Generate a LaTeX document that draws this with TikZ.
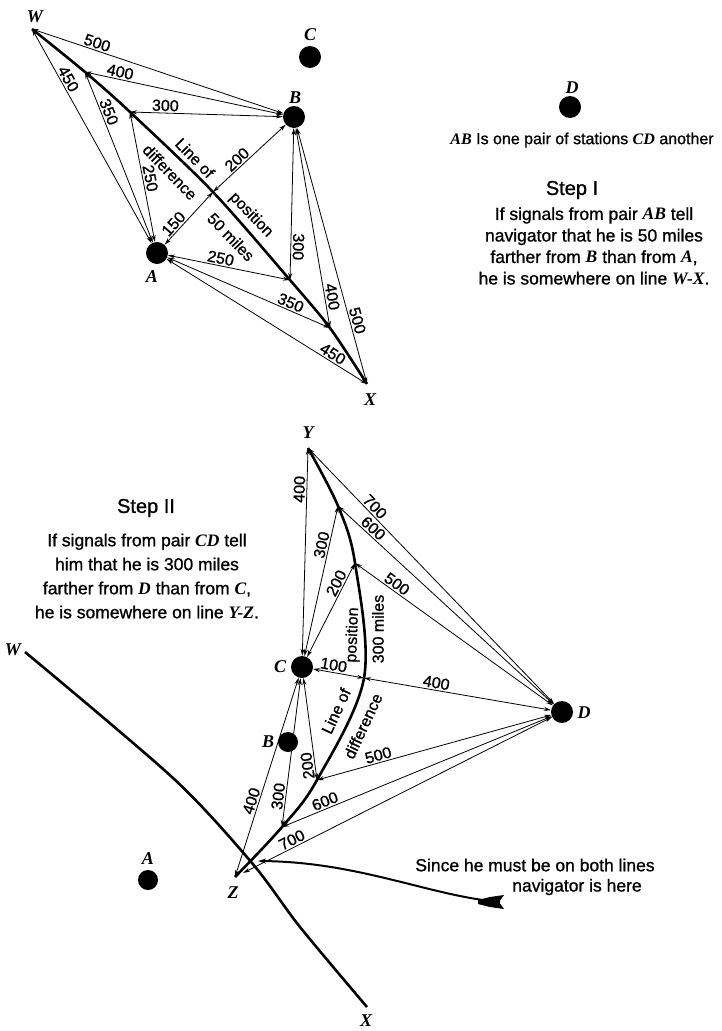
\documentclass[tikz,border=0pt]{standalone}
\usepackage{fontspec}
\setmainfont{Liberation Sans}[FakeBold=1]
\newfontfamily\stnfont{Liberation Serif}
\usetikzlibrary{arrows.meta}

\newcommand{\st}[1]{{\stnfont\bfseries\itshape #1}}

\begin{document}
\begin{tikzpicture}[x=1pt,y=-1pt,
    stn/.style={circle,fill=black,minimum size=22pt,inner sep=0pt},
    lett/.style={font=\fontsize{18}{18}\selectfont\stnfont\bfseries\itshape,inner sep=0pt},
    meas/.style={{Stealth[length=7pt,width=4pt]}-{Stealth[length=7pt,width=4pt]},line width=0.8pt},
    num/.style={font=\fontsize{16}{16}\selectfont,inner sep=1.5pt,sloped,above},
    lop/.style={line width=2.6pt},
    lopl/.style={font=\fontsize{16}{16}\selectfont,inner sep=0pt},
    note/.style={font=\fontsize{17.5}{22}\selectfont,align=center,inner sep=0pt}]
\useasboundingbox (0,0) rectangle (721,1031);

% Step I
\node[stn] (A) at (157,253) {};
\node[stn] (B) at (294,117) {};
\node[stn] (C) at (310,57) {};
\node[stn] (D) at (570,107) {};
\node[lett] (labA) at (152,277) {A};
\node[lett] (labB) at (295,98) {B};
\node[lett] (labC) at (310,35) {C};
\node[lett] (labD) at (572,88) {D};
\node[lett] (labW) at (35,17) {W};
\node[lett] (labX) at (370,400) {X};

\coordinate (W) at (32,29);
\coordinate (P1) at (85,72);
\coordinate (P2) at (130,112);
\coordinate (P3) at (213,192);
\coordinate (P4) at (290,280);
\coordinate (P5) at (330,328);
\coordinate (X) at (367,384);

\draw[lop] plot[smooth,tension=0.5] coordinates {(W) (P1) (P2) (P3) (P4) (P5) (X)};
\node[lopl,rotate=-46] (lineof) at (195,158) {Line of};
\node[lopl,rotate=-46] (posit) at (251,215) {position};
\node[lopl,rotate=-46] (diff) at (170,172) {difference};
\node[lopl,rotate=-46] (miles) at (231,237) {50 miles};

\draw[meas] (W) -- node[num,pos=.25]{500} (B);
\draw[meas] (W) -- node[num,pos=.25]{450} (A);
\draw[meas] (P1) -- node[num,pos=.17]{400} (B);
\draw[meas] (P1) -- node[num,pos=.25]{350} (A);
\draw[meas] (P2) -- node[num,pos=.23]{300} (B);
\draw[meas] (P2) -- node[num,pos=.52]{250} (A);
\draw[meas] (P3) -- node[num,pos=.4]{200} (B);
\draw[meas] (A) -- node[num,pos=.3]{150} (P3);
\draw[meas] (A) -- node[num,pos=.42]{250} (P4);
\draw[meas] (B) -- node[num,pos=.78,allow upside down]{300} (P4);
\draw[meas] (A) -- node[num,pos=.74]{350} (P5);
\draw[meas] (B) -- node[num,pos=.85]{400} (P5);
\draw[meas] (A) -- node[num,pos=.81]{450} (X);
\draw[meas] (B) -- node[num,pos=.76]{500} (X);

\node[note,font=\fontsize{16}{16}\selectfont] (pairs) at (582,140) {\st{AB} Is one pair of stations \st{CD} another};
\node[font=\fontsize{20}{20}\selectfont] (step1) at (572,190) {Step I};
\node[note,font=\fontsize{17.5}{21.5}\selectfont] (text1) at (594,246)
  {If signals from pair \st{AB} tell\\ navigator that he is 50 miles\\
   farther from \st{B} than from \st{A},\\ he is somewhere on line \st{W-X}.};

% Step II
\node[stn] (C2) at (302,667) {};
\node[stn] (D2) at (562,712) {};
\node[stn,minimum size=20pt] (B2) at (288,742) {};
\node[stn,minimum size=20pt] (A2) at (148,880) {};
\node[lett] (labC2) at (280,667) {C};
\node[lett] (labD2) at (584,713) {D};
\node[lett] (labB2) at (268,742) {B};
\node[lett] (labA2) at (148,859) {A};
\node[lett] (labY) at (308,433) {Y};
\node[lett] (labZ) at (233,893) {Z};
\node[lett] (labW2) at (13,650) {W};
\node[lett] (labX2) at (366,1021) {X};

\coordinate (Y) at (308,448);
\coordinate (Q1) at (338,506);
\coordinate (Q2) at (355,563);
\coordinate (Q3) at (364,678);
\coordinate (Q4) at (317,780);
\coordinate (Q5) at (282,827);
\coordinate (Z) at (235,877);

\draw[lop] plot[smooth,tension=0.55] coordinates {(Y) (Q1) (Q2) (Q3) (Q4) (Q5) (Z)};
\node[lopl,rotate=88] (posit2) at (353,635) {position};
\node[lopl,rotate=90] (miles2) at (378,629) {300 miles};
\node[lopl,rotate=65] (lineof2) at (336,711) {Line of};
\node[lopl,rotate=65] (diff2) at (363,726) {difference};

\draw[meas] (C2) -- node[num,pos=.8]{400} (Y);
\draw[meas] (C2) -- node[num,pos=.73]{300} (Q1);
\draw[meas] (C2) -- node[num,pos=.75]{200} (Q2);
\draw[meas] (C2) -- node[num,pos=.38]{100} (Q3);
\draw[meas] (Q3) -- node[num,pos=.38]{400} (D2);
\draw[meas] (Y) -- node[num,pos=.25]{700} (D2);
\draw[meas] (Q1) -- node[num,pos=.14]{600} (D2);
\draw[meas] (Q2) -- node[num,pos=.19]{500} (D2);
\draw[meas] (Q4) -- node[num,pos=.15,allow upside down]{200} (C2);
\draw[meas] (Q5) -- node[num,pos=.2]{300} (C2);
\draw[meas] (Z) -- node[num,pos=.37]{400} (C2);
\draw[meas] (Q4) -- node[num,pos=.27]{500} (D2);
\draw[meas] (Q5) -- node[num,pos=.17]{600} (D2);
\draw[meas,shorten <=9pt] (Z) -- node[num,pos=.19]{700} (D2);

% line W-X carried over
\coordinate (W2) at (25,652);
\coordinate (X2) at (367,1007);
\draw[lop] plot[smooth,tension=0.5] coordinates {(W2) (173,778) (252,863) (300,927) (X2)};

\node[note] (text2h) at (146,508) {\fontsize{20}{20}\selectfont Step II};
\node[note,font=\fontsize{17.5}{24}\selectfont] (text2) at (147,576)
  {If signals from pair \st{CD} tell\\ him that he is 300 miles\\
   farther from \st{D} than from \st{C},\\ he is somewhere on line \st{Y-Z}.};

% navigator is here
\coordinate (fix) at (258,861);
\coordinate (tail) at (500,902);
\draw[line width=2pt,-{Stealth[length=8pt,width=5pt]}]
  (tail) .. controls (430,896) and (360,862) .. (fix);
\fill (tail) ++(-22,-2) -- ++(12,-3) -- ++(14,-2) -- ++(-5,7) -- ++(5,7) -- ++(-14,-2) -- ++(-12,-3) -- cycle;
\node[note] (since) at (535,865) {Since he must be on both lines};
\node[note] (here) at (577,887) {navigator is here};
\end{tikzpicture}
\end{document}
